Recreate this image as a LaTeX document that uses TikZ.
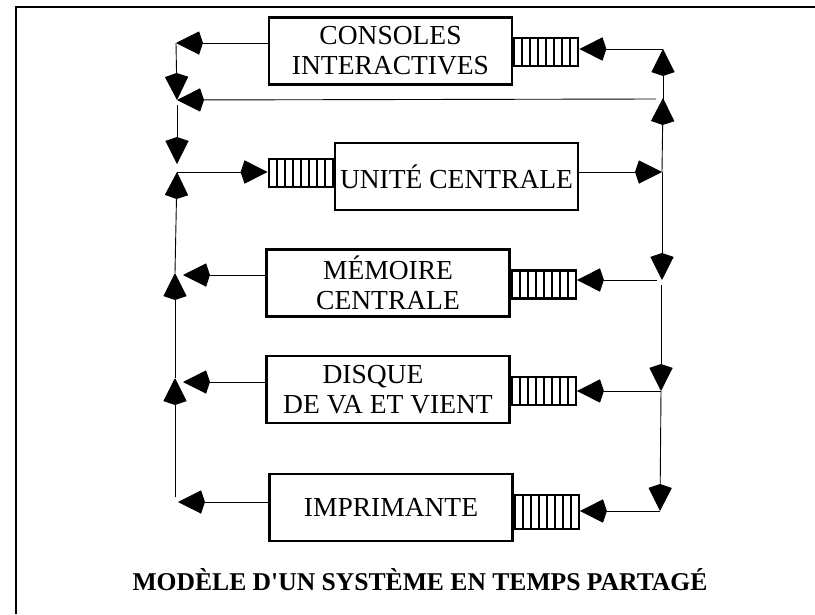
\documentclass[tikz,border=0pt]{standalone}
\usepackage{fontspec}
\setmainfont{Liberation Serif}[Ligatures=TeXOff]
\usetikzlibrary{arrows.meta}

\tikzset{
  unitbox/.style={draw, line width=2.4pt, minimum width=243pt, minimum height=67pt,
    inner sep=0pt, align=center, font=\fontsize{27.5}{30}\selectfont},
  queue/.style={draw, line width=2.2pt, minimum width=64pt, minimum height=28pt,
    inner sep=0pt,
    path picture={\foreach \i in {1,...,7}
      \draw[line width=2pt]
        ([xshift=\i*8pt]path picture bounding box.south west) --
        ([xshift=\i*8pt]path picture bounding box.north west);}},
  link/.style={line width=0.9pt, -{Stealth[length=23pt,width=23pt,inset=-4pt]}},
  frameline/.style={line width=2.6pt}
}

\begin{document}
\begin{tikzpicture}[x=1pt,y=-1pt]
\useasboundingbox (0,0) rectangle (815,614);

% outer frame (top and left edges)
\draw[frameline] (16,614) -- (16,7) -- (815,7);

% units and their queues
\node[unitbox] (cons) at (390.5,51) {CONSOLES\\INTERACTIVES};
\node[queue, anchor=west] (consq) at (cons.east |- 0,52) {};

\node[unitbox] (uc) at (456.5,176.5) {UNITÉ CENTRALE};
\node[queue, anchor=east] (ucq) at (uc.west |- 0,173) {};

\node[unitbox] (mem) at (388,283) {MÉMOIRE\\CENTRALE};
\node[queue, anchor=west] (memq) at (mem.east |- 0,284.5) {};

\node[unitbox] (dis) at (388,389.5) {DISQUE\hspace*{30pt}\\DE VA ET VIENT};
\node[queue, anchor=west] (disq) at (dis.east |- 0,391) {};

\node[unitbox] (imp) at (391,507.5) {IMPRIMANTE};
\node[queue, anchor=west, minimum height=34pt] (impq) at (imp.east |- 0,512) {};

% junction points of the return bus (left) and the dispatch bus (right)
\coordinate (L1) at (176,43);
\coordinate (L2) at (177,100);
\coordinate (L2b) at (177,105);
\coordinate (L3d) at (177,164);
\coordinate (L3) at (177,172);
\coordinate (L4) at (175,273);
\coordinate (L4t) at (183,275);
\coordinate (L5) at (175,378);
\coordinate (L5t) at (183,382);
\coordinate (L6) at (175,497);
\coordinate (L6t) at (178,502);

\coordinate (R1) at (663,49);
\coordinate (R2) at (663,98);
\coordinate (R2b) at (663,121);
\coordinate (R2w) at (656,99);
\coordinate (R3) at (662,172);
\coordinate (R4) at (662,280);
\coordinate (R4w) at (657,280);
\coordinate (R4b) at (661,285);
\coordinate (R5) at (661,391);
\coordinate (R6) at (660,511);

% outputs of the units toward the return bus
\draw[link] (cons.west |- L1) -- (L1);
\draw[link] (mem.west |- L4t) -- (L4t);
\draw[link] (dis.west |- L5t) -- (L5t);
\draw[link] (imp.west |- L6t) -- (L6t);

% return bus
\draw[link] (L1) -- (L2);
\draw[link] (L2b) -- (L3d);
\draw[link] (L4) -- (L3);
\draw[link] (L5) -- (L4);
\draw[link] (L6) -- (L5);

% central unit
\draw[link] (L3) -- (ucq.west |- L3);
\draw[link] (uc.east |- R3) -- (R3);

% dispatch bus, upward
\draw[link] (R3) -- (R2);
\draw[link] (R2b) -- (R1);
\draw[link] (R1) -- (consq.east |- R1);
\draw[link] (R2w) -- (L2);

% dispatch bus, downward
\draw[link] (R3) -- (R4);
\draw[link] (R4w) -- (memq.east |- R4w);
\draw[link] (R4b) -- (R5);
\draw[link] (R5) -- (disq.east |- R5);
\draw[link] (R5) -- (R6);
\draw[link] (R6) -- (impq.east |- R6);

% title
\node[font=\bfseries\fontsize{25.6}{30}\selectfont] (title) at (420,580)
  {MODÈLE D'UN SYSTÈME EN TEMPS PARTAGÉ};
\end{tikzpicture}
\end{document}
